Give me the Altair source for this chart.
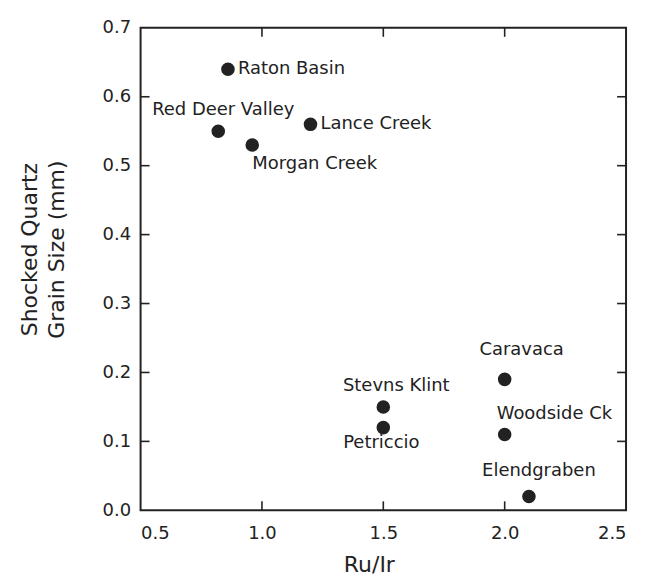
import altair as alt
import pandas as pd

# ---- data ----
sites = ["Raton Basin", "Red Deer Valley", "Morgan Creek", "Lance Creek",
         "Stevns Klint", "Petriccio", "Caravaca", "Woodside Ck", "Elendgraben"]
ru_ir = [0.86, 0.82, 0.96, 1.20, 1.50, 1.50, 2.00, 2.00, 2.10]
grain = [0.64, 0.55, 0.53, 0.56, 0.15, 0.12, 0.19, 0.11, 0.02]

x_ticks = [1.0, 1.5, 2.0]
y_ticks = [0.1, 0.2, 0.3, 0.4, 0.5, 0.6]
x_labels = [0.5, 1.0, 1.5, 2.0, 2.5]
y_labels = [0.0, 0.1, 0.2, 0.3, 0.4, 0.5, 0.6, 0.7]

df = pd.DataFrame({"site": sites, "ruir": ru_ir, "grain": grain})
xt = pd.DataFrame({"v": x_ticks})
yt = pd.DataFrame({"v": y_ticks})

INK = "#222222"
FONT = "DejaVu Sans"
FS = 18
TFS = 22

xscale = alt.Scale(domain=[0.5, 2.5], nice=False, zero=False)
yscale = alt.Scale(domain=[0.0, 0.7], nice=False, zero=False)

X = alt.X("ruir:Q", scale=xscale,
          axis=alt.Axis(title="Ru/Ir", values=x_labels, format=".1f",
                        grid=False, domain=False, ticks=False,
                        labelPadding=14,
                        labelFont=FONT, titleFont=FONT, labelFontSize=FS,
                        titleFontSize=TFS, labelColor=INK, titleColor=INK,
                        titleFontWeight="normal", titleAlign="center",
                        titleBaseline="alphabetic", titleX=229, titleY=61))
Y = alt.Y("grain:Q", scale=yscale,
          axis=alt.Axis(title=["Shocked Quartz", "Grain Size (mm)"],
                        values=y_labels, format=".1f",
                        grid=False, domain=False, ticks=False,
                        labelPadding=10, labelFont=FONT, titleFont=FONT,
                        labelFontSize=FS, titleFontSize=TFS,
                        labelColor=INK, titleColor=INK,
                        titleFontWeight="normal", titleAngle=-90,
                        titleAlign="center", titleBaseline="top",
                        titleX=-121, titleY=222, titleLineHeight=27))

points = alt.Chart(df).mark_circle(size=185, color=INK, opacity=1).encode(x=X, y=Y)

# label placement (style only): dx, dy, align
place = {
    "Raton Basin": (10, 0, "left"),
    "Red Deer Valley": (5, -21, "center"),
    "Morgan Creek": (0, 19, "left"),
    "Lance Creek": (10, 0, "left"),
    "Stevns Klint": (13, -21, "center"),
    "Petriccio": (-2, 15, "center"),
    "Caravaca": (17, -29, "center"),
    "Woodside Ck": (-8, -21, "left"),
    "Elendgraben": (-47, -26, "left"),
}

layers = [points]
for name in sites:
    dx, dy, al = place[name]
    layers.append(
        alt.Chart(df).transform_filter(alt.datum.site == name)
        .mark_text(dx=dx, dy=dy, align=al, baseline="middle", font=FONT,
                   fontSize=FS, color=INK)
        .encode(x=alt.X("ruir:Q", scale=xscale), y=alt.Y("grain:Q", scale=yscale),
                text="site:N")
    )

TL = 9
tick_bottom = alt.Chart(xt).mark_rule(color=INK, strokeWidth=1.6).encode(
    x=alt.X("v:Q", scale=xscale), y=alt.value(484), y2=alt.value(484 - TL))
tick_top = alt.Chart(xt).mark_rule(color=INK, strokeWidth=1.6).encode(
    x=alt.X("v:Q", scale=xscale), y=alt.value(0), y2=alt.value(TL))
tick_left = alt.Chart(yt).mark_rule(color=INK, strokeWidth=1.6).encode(
    y=alt.Y("v:Q", scale=yscale), x=alt.value(0), x2=alt.value(TL))
tick_right = alt.Chart(yt).mark_rule(color=INK, strokeWidth=1.6).encode(
    y=alt.Y("v:Q", scale=yscale), x=alt.value(487), x2=alt.value(487 - TL))

chart = alt.layer(*layers, tick_bottom, tick_top, tick_left, tick_right).properties(
    width=487, height=484,
    autosize=alt.AutoSizeParams(type="none"),
    padding={"left": 133, "top": 19, "right": 12, "bottom": 66},
    background="white",
).configure_view(stroke=INK, strokeWidth=2)

chart.save("out.html", embed_options={"renderer": "svg", "actions": False})
